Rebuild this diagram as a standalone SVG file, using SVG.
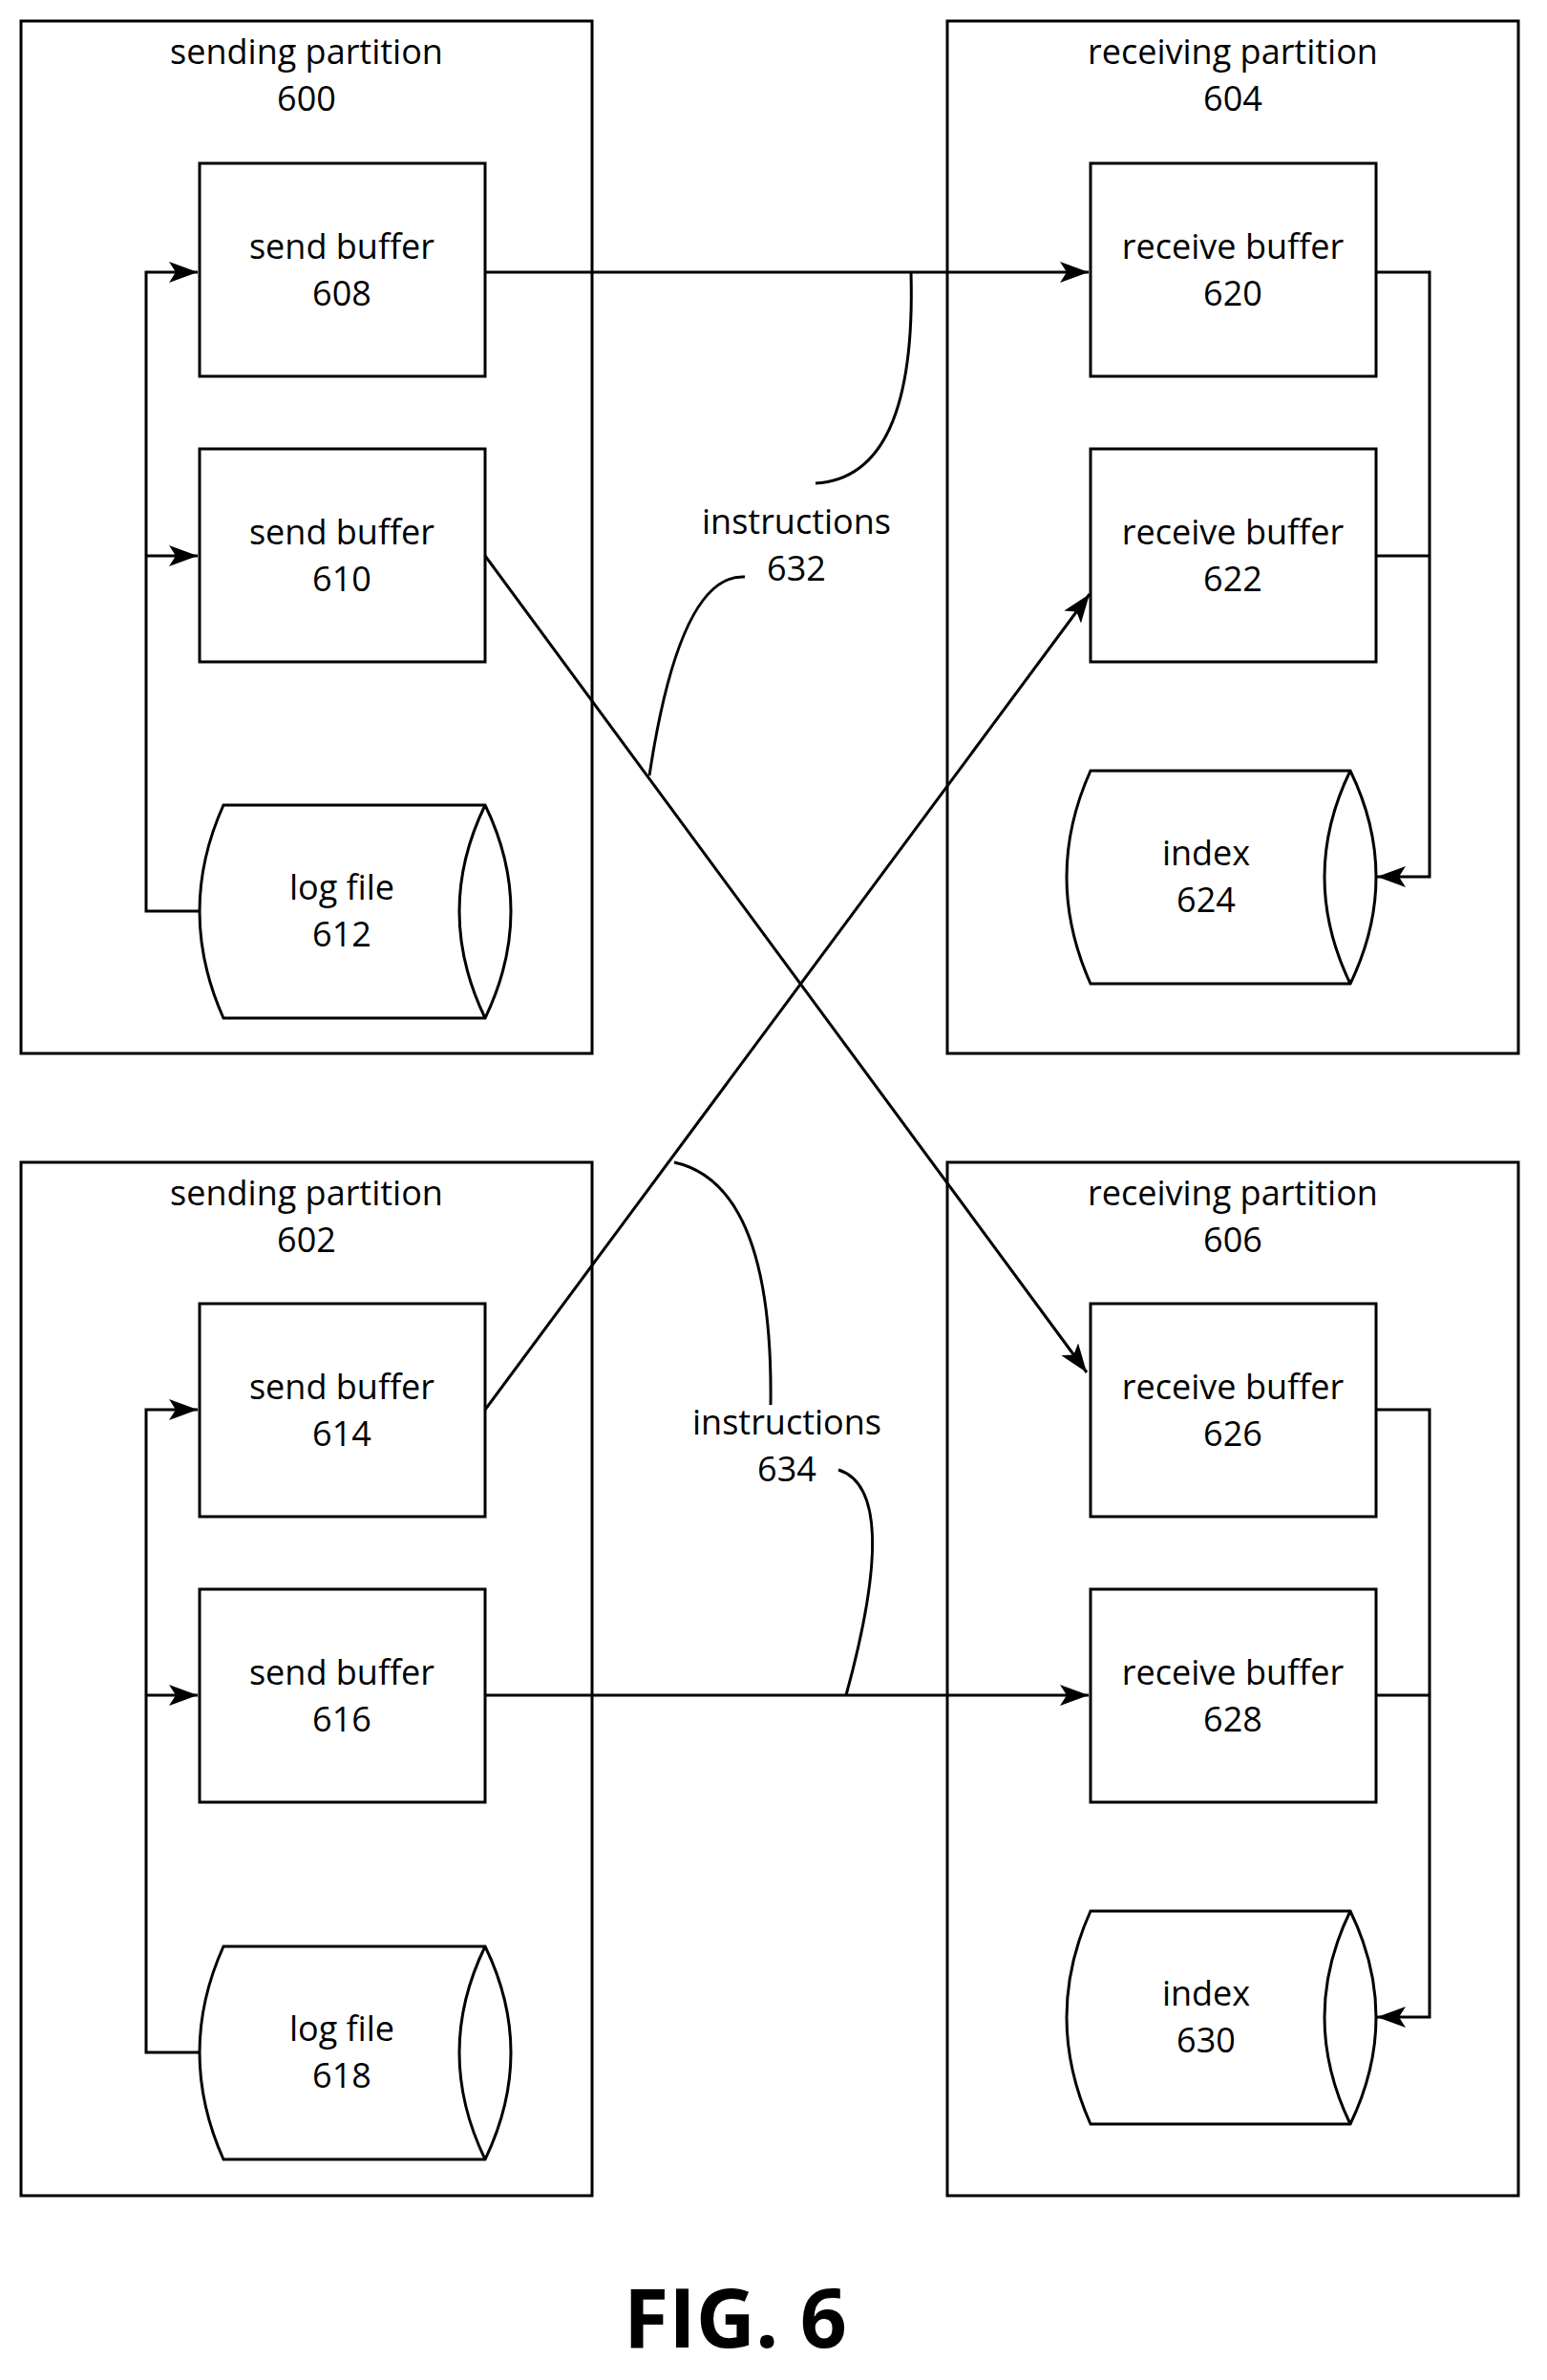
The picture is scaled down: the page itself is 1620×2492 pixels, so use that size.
<svg xmlns="http://www.w3.org/2000/svg" width="1620" height="2492" viewBox="0 0 1620 2492">
<style>
.s{fill:none;stroke:#000;stroke-width:3}
.b{fill:#fff;stroke:#000;stroke-width:3}
text{font-family:"Open Sans","Liberation Sans",sans-serif;font-size:36px;text-anchor:middle;fill:#000}
.f{font-size:86px;font-weight:bold}
</style>
<defs>
<marker id="ab" markerWidth="30" markerHeight="22" refX="30" refY="11" orient="auto" markerUnits="userSpaceOnUse" viewBox="0 0 30 22">
<path d="M0,0 L30,11 L0,22 L7,11 Z" fill="#000"/>
</marker>
</defs>
<g id="p600"><rect class="s" x="22" y="22" width="598" height="1081"/><text x="321" y="67">sending partition</text><text x="321" y="116">600</text></g>
<g id="p604"><rect class="s" x="992" y="22" width="598" height="1081"/><text x="1291" y="67">receiving partition</text><text x="1291" y="116">604</text></g>
<g id="p602"><rect class="s" x="22" y="1217" width="598" height="1082"/><text x="321" y="1262">sending partition</text><text x="321" y="1311">602</text></g>
<g id="p606"><rect class="s" x="992" y="1217" width="598" height="1082"/><text x="1291" y="1262">receiving partition</text><text x="1291" y="1311">606</text></g>

<g id="n608"><rect class="b" x="209" y="171" width="299" height="223"/><text x="358" y="271">send buffer</text><text x="358" y="320">608</text></g>
<g id="n610"><rect class="b" x="209" y="470" width="299" height="223"/><text x="358" y="570">send buffer</text><text x="358" y="619">610</text></g>
<g id="n612"><path class="b" d="M234,843 L508,843 Q562,954 508,1066 L234,1066 Q184,954 234,843 Z"/><path class="s" d="M508,843 Q454,954 508,1066"/><text x="358" y="942">log file</text><text x="358" y="991">612</text></g>
<g id="n620"><rect class="b" x="1142" y="171" width="299" height="223"/><text x="1291" y="271">receive buffer</text><text x="1291" y="320">620</text></g>
<g id="n622"><rect class="b" x="1142" y="470" width="299" height="223"/><text x="1291" y="570">receive buffer</text><text x="1291" y="619">622</text></g>
<g id="n624"><path class="b" d="M1142,807 L1414,807 Q1468,918 1414,1030 L1142,1030 Q1092,918 1142,807 Z"/><path class="s" d="M1414,807 Q1360,918 1414,1030"/><text x="1263" y="906">index</text><text x="1263" y="955">624</text></g>

<g id="n614"><rect class="b" x="209" y="1365" width="299" height="223"/><text x="358" y="1465">send buffer</text><text x="358" y="1514">614</text></g>
<g id="n616"><rect class="b" x="209" y="1664" width="299" height="223"/><text x="358" y="1764">send buffer</text><text x="358" y="1813">616</text></g>
<g id="n618"><path class="b" d="M234,2038 L508,2038 Q562,2149 508,2261 L234,2261 Q184,2149 234,2038 Z"/><path class="s" d="M508,2038 Q454,2149 508,2261"/><text x="358" y="2137">log file</text><text x="358" y="2186">618</text></g>
<g id="n626"><rect class="b" x="1142" y="1365" width="299" height="223"/><text x="1291" y="1465">receive buffer</text><text x="1291" y="1514">626</text></g>
<g id="n628"><rect class="b" x="1142" y="1664" width="299" height="223"/><text x="1291" y="1764">receive buffer</text><text x="1291" y="1813">628</text></g>
<g id="n630"><path class="b" d="M1142,2001 L1414,2001 Q1468,2112 1414,2224 L1142,2224 Q1092,2112 1142,2001 Z"/><path class="s" d="M1414,2001 Q1360,2112 1414,2224"/><text x="1263" y="2100">index</text><text x="1263" y="2149">630</text></g>

<g id="connectors">
<path class="s" d="M209,954 H153 V285 H207" marker-end="url(#ab)"/>
<path class="s" d="M153,582 H207" marker-end="url(#ab)"/>
<path class="s" d="M209,2149 H153 V1476 H207" marker-end="url(#ab)"/>
<path class="s" d="M153,1775 H207" marker-end="url(#ab)"/>
<path class="s" d="M1441,285 H1497 V918 H1442" marker-end="url(#ab)"/>
<path class="s" d="M1441,582 H1497"/>
<path class="s" d="M1441,1476 H1497 V2112 H1442" marker-end="url(#ab)"/>
<path class="s" d="M1441,1775 H1497"/>
<path class="s" d="M508,285 H1140" marker-end="url(#ab)"/>
<path class="s" d="M508,1775 H1140" marker-end="url(#ab)"/>
<path class="s" d="M508,582 L1138,1437" marker-end="url(#ab)"/>
<path class="s" d="M508,1476 L1141,622" marker-end="url(#ab)"/>
<path class="s" d="M954,285 Q960,500 854,506"/>
<path class="s" d="M780,604 Q712,600 680,812"/>
<path class="s" d="M807,1471 Q810,1240 706,1217"/>
<path class="s" d="M878,1539 Q945,1560 886,1775"/>
</g>
<g id="labels">
<text x="834" y="559">instructions</text><text x="834" y="608">632</text>
<text x="824" y="1502">instructions</text><text x="824" y="1551">634</text>
<text class="f" x="770" y="2458">FIG. 6</text>
</g>
</svg>
